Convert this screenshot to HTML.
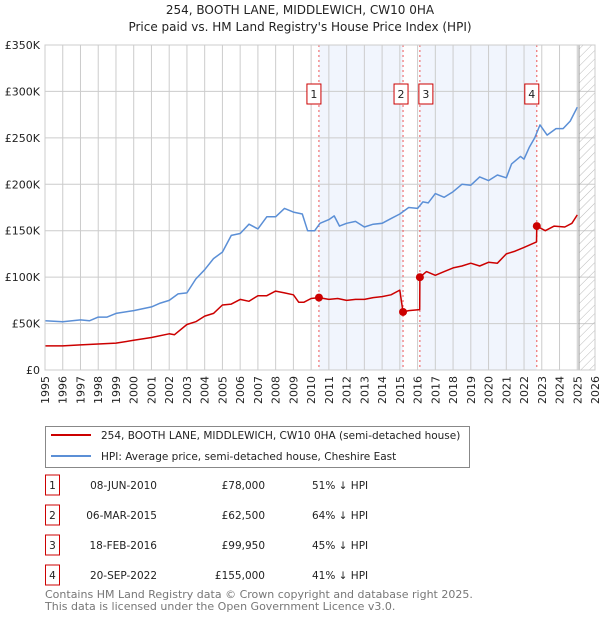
<!DOCTYPE html>
<html><head><meta charset="utf-8"><style>
body{margin:0;background:#fff;font-family:"Liberation Sans","DejaVu Sans",sans-serif;}
svg text{font-family:"DejaVu Sans","Liberation Sans",sans-serif;}
</style></head><body>
<svg id="c" width="600" height="620" xmlns="http://www.w3.org/2000/svg">
<defs><pattern id="hatch" width="6" height="6" patternUnits="userSpaceOnUse" patternTransform="rotate(45)"><line x1="0" y1="0" x2="0" y2="6" stroke="#bbb" stroke-width="1"/></pattern></defs>
<text x="300" y="14" text-anchor="middle" font-size="12" fill="#222">254, BOOTH LANE, MIDDLEWICH, CW10 0HA</text>
<text x="300" y="31" text-anchor="middle" font-size="12" fill="#222">Price paid vs. HM Land Registry's House Price Index (HPI)</text>
<g id="plot"></g>
<g>
<rect x="45.5" y="426.5" width="424" height="41" fill="#fff" stroke="#888"/>
<line x1="51" y1="435" x2="91" y2="435" stroke="#cc0000" stroke-width="2"/>
<text x="101" y="439" font-size="10.5" fill="#222">254, BOOTH LANE, MIDDLEWICH, CW10 0HA (semi-detached house)</text>
<line x1="51" y1="456" x2="91" y2="456" stroke="#5b8fd6" stroke-width="2"/>
<text x="101" y="460" font-size="10.5" fill="#222">HPI: Average price, semi-detached house, Cheshire East</text>
</g>
<g id="table" font-size="10.5" fill="#222"></g>
<text x="45" y="598" font-size="11" fill="#777">Contains HM Land Registry data © Crown copyright and database right 2025.</text>
<text x="45" y="610" font-size="11" fill="#777">This data is licensed under the Open Government Licence v3.0.</text>
</svg>
<script>
const hpiYears=[1995,1996,1997,1997.5,1998,1998.5,1999,2000,2001,2001.5,2002,2002.5,2003,2003.5,2004,2004.5,2005,2005.5,2006,2006.5,2007,2007.5,2008,2008.5,2009,2009.5,2009.8,2010.2,2010.5,2011,2011.3,2011.6,2012,2012.5,2013,2013.5,2014,2014.5,2015,2015.5,2016,2016.3,2016.6,2017,2017.5,2018,2018.5,2019,2019.5,2020,2020.5,2021,2021.3,2021.8,2022,2022.3,2022.6,2022.9,2023.3,2023.8,2024.2,2024.6,2025];
const hpiValues=[53,52,54,53,57,57,61,64,68,72,75,82,83,98,108,120,127,145,147,157,152,165,165,174,170,168,150,150,158,162,166,155,158,160,154,157,158,163,168,175,174,181,180,190,186,192,200,199,208,204,210,207,222,230,227,240,250,264,253,260,260,268,283];
const ppYears=[1995,1996,1997,1998,1999,2000,2001,2002,2002.3,2003,2003.5,2004,2004.5,2005,2005.5,2006,2006.5,2007,2007.5,2008,2008.5,2009,2009.3,2009.6,2010,2010.44,2011,2011.5,2012,2012.5,2013,2013.5,2014,2014.5,2015,2015.18,2015.5,2016.12,2016.13,2016.5,2017,2017.5,2018,2018.5,2019,2019.5,2020,2020.5,2021,2021.5,2022,2022.7,2022.72,2023.2,2023.7,2024.3,2024.7,2025];
const ppValues=[26,26,27,28,29,32,35,39,38,49,52,58,61,70,71,76,74,80,80,85,83,81,73,73,77,78,76,77,75,76,76,78,79,81,86,62.5,64,65,99.95,106,102,106,110,112,115,112,116,115,125,128,132,138,155,150,155,154,158,167];
const saleYears=[2010.44,2015.18,2016.13,2022.72];
const saleValues=[78,62.5,99.95,155];
const saleLabels=["1","2","3","4"];
const saleDates=["08-JUN-2010","06-MAR-2015","18-FEB-2016","20-SEP-2022"];
const salePrices=["£78,000","£62,500","£99,950","£155,000"];
const saleDiffs=["51% ↓ HPI","64% ↓ HPI","45% ↓ HPI","41% ↓ HPI"];
const yTicks=[0,50,100,150,200,250,300,350];
const yTickLabels=["£0","£50K","£100K","£150K","£200K","£250K","£300K","£350K"];
const xTicks=[];for(let y=1995;y<=2026;y++)xTicks.push(y);

const X0=45,X1=595,Y0=370,Y1=45;
const xs=t=>X0+(t-1995)/(2026-1995)*(X1-X0);
const ys=v=>Y0-v/350*(Y0-Y1);
const NS="http://www.w3.org/2000/svg";
const plot=document.getElementById('plot');
function mk(tag,attrs,parent){const e=document.createElementNS(NS,tag);for(const k in attrs)e.setAttribute(k,attrs[k]);(parent||plot).appendChild(e);return e;}
// shading
let r=mk('rect',{x:xs(saleYears[0]),y:Y1,width:xs(saleYears[1])-xs(saleYears[0]),height:Y0-Y1,fill:'#eef3fc',opacity:0.8});


r=mk('rect',{x:xs(saleYears[2]),y:Y1,width:xs(saleYears[3])-xs(saleYears[2]),height:Y0-Y1,fill:'#eef3fc',opacity:0.8});


// grid
yTicks.forEach((v,i)=>{
 const l=mk('line',{x1:X0,x2:X1,y1:ys(v),y2:ys(v),stroke:'#ccc'});
 
 
 const t=mk('text',{x:X0-5,y:ys(v)+4,'text-anchor':'end','font-size':'11',fill:'#222'});
 
 
 t.textContent=yTickLabels[i];
});
xTicks.forEach(y=>{
 const l=mk('line',{x1:xs(y),x2:xs(y),y1:Y1,y2:Y0,stroke:'#ccc'});
 
 
 const t=mk('text',{x:0,y:0,'text-anchor':'end','font-size':'11',fill:'#222',transform:`translate(${xs(y)+4},${Y0+6}) rotate(-90)`});
 
 
 t.textContent=y;
});
// hatch
r=mk('rect',{x:xs(2025.1),y:Y1,width:X1-xs(2025.1),height:Y0-Y1,fill:'url(#hatch)',stroke:'none'});


const ax=mk('line',{x1:xs(2025.1),x2:xs(2025.1),y1:Y1,y2:Y0,stroke:'#999'});


// sale vlines
saleYears.forEach((y,i)=>{
 const l=mk('line',{x1:xs(y),x2:xs(y),y1:Y1,y2:Y0,stroke:'#e55','stroke-dasharray':'2,3'});
 
 
});
// lines
function path(xa,va,color,name){
 const d=xa.map((x,i)=>(i?'L':'M')+xs(x).toFixed(1)+','+ys(va[i]).toFixed(1)).join('');
 const p=mk('path',{d:d,fill:'none',stroke:color,'stroke-width':1.5,'stroke-linejoin':'round'});
 
 
}
path(hpiYears,hpiValues,'#5b8fd6','hpi-line');
path(ppYears,ppValues,'#cc0000','price-paid-line');
saleYears.forEach((y,i)=>{
 const c=mk('circle',{cx:xs(y),cy:ys(saleValues[i]),r:4,fill:'#cc0000'});
 
 
 const bx=(i==1)?xs(y)-9:(i==2)?xs(y)-1:xs(y)-12;
 const b=mk('rect',{x:bx,y:84,width:14,height:20,fill:'#fff',stroke:'#cc0000'});
 
 
 const t=mk('text',{x:bx+7,y:98,'text-anchor':'middle','font-size':'11',fill:'#222'});
 
 
 t.textContent=saleLabels[i];
});
const bd=mk('rect',{x:X0,y:Y1,width:X1-X0,height:Y0-Y1,fill:'none',stroke:'#ccc'});


// table
const tb=document.getElementById('table');
saleLabels.forEach((s,i)=>{
 const y=483+i*30;
 const b=mk('rect',{x:45.5,y:y-8,width:14,height:20,fill:'#fff',stroke:'#cc0000'},tb);
 
 
 const cells=[[52.5,s,'middle'],[157,saleDates[i],'end'],[265,salePrices[i],'end'],[312,saleDiffs[i],'start']];
 cells.forEach(c=>{
  const t=mk('text',{x:c[0],y:y+6,'text-anchor':c[2],'font-size':'10.5',fill:'#222'},tb);
  
  
  t.textContent=c[1];
 });
});
</script>
</body></html>
